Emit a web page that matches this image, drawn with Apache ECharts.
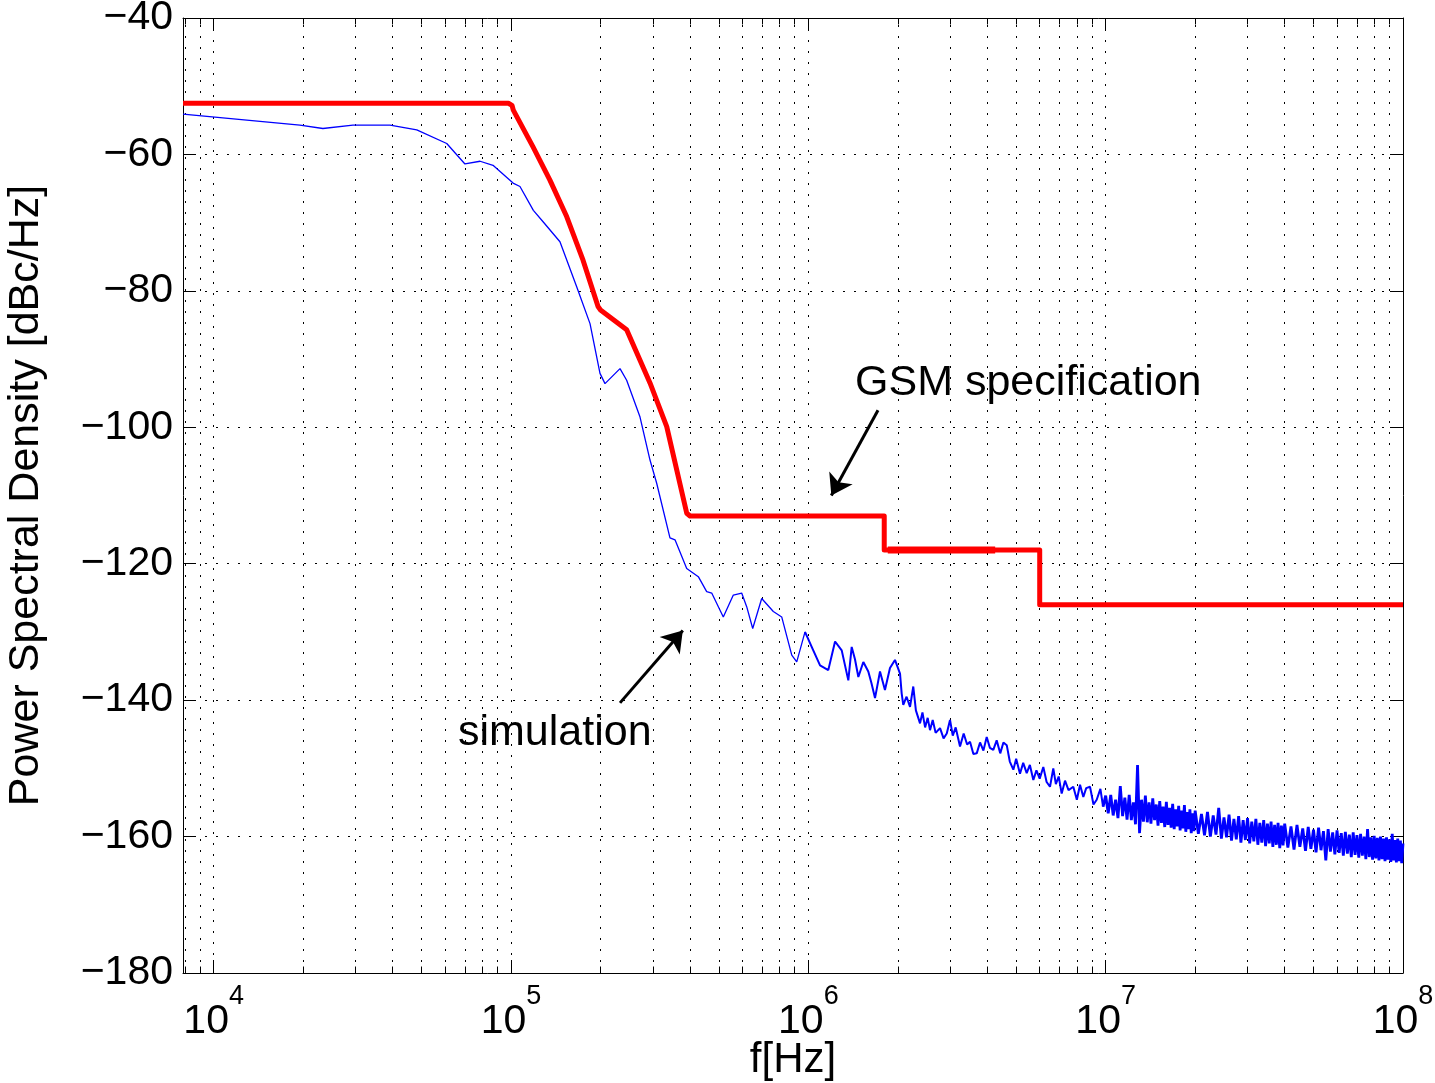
<!DOCTYPE html>
<html>
<head>
<meta charset="utf-8">
<script src="https://cdn.jsdelivr.net/npm/echarts@6/dist/echarts.min.js"></script>
<style>html,body{margin:0;padding:0;background:#fff}#c{width:1435px;height:1083px}</style>
</head>
<body>
<div id="c"></div>
<script>
// ---------- data ----------
const X_MIN = 7886, X_MAX = 1e8;
const Y_MIN = -180, Y_MAX = -40, Y_STEP = 20;

// GSM specification mask
const specFreq = [7886, 9.8e4, 1.008e5, 1.018e5, 1.186e5, 1.353e5, 1.539e5, 1.747e5, 1.962e5, 2.0e5, 2.449e5, 2.934e5, 3.34e5, 3.9e5, 4.0e5, 1.8e6, 1.8e6, 6.0e6, 6.0e6, 1.0e8];
const specPSD  = [-52.5, -52.5, -52.8, -53.5, -58.9, -63.8, -69.1, -75.5, -82.3, -82.8, -85.7, -93.5, -99.9, -112.6, -113.0, -113.0, -118.0, -118.0, -126.0, -126.0];
const specOverlapFreq = [1.85e6, 4.25e6];
const specOverlapPSD  = [-118.0, -118.0];

// simulated phase noise: smooth part (< 1 MHz)
const simLowFreq = [
 7886, 1.95e4, 2.33e4, 2.94e4, 3.92e4, 4.82e4, 6.08e4, 7.0e4, 7.87e4, 8.7e4,
 1.016e5, 1.072e5, 1.189e5, 1.284e5, 1.461e5, 1.663e5, 1.844e5, 1.992e5, 2.071e5, 2.326e5,
 2.449e5, 2.716e5, 2.934e5, 3.09e5, 3.425e5,
 3.561e5, 3.899e5, 4.266e5, 4.551e5, 4.732e5, 5.176e5, 5.594e5, 5.968e5, 6.204e5, 6.5e5,
 6.969e5, 7.625e5, 8.137e5, 8.796e5, 9.141e5, 9.746e5
];
const simLowPSD = [
 -54.1,-55.7,-56.2,-55.7,-55.7,-56.4,-58.4,-61.4,-61.0,-61.6,
 -64.2,-64.7,-68.2,-69.9,-72.8,-79.4,-84.8,-92.1,-93.6,-91.4,
 -93.1,-98.5,-104.8,-108.2,-116.2,
 -116.5,-120.7,-121.9,-124.1,-124.3,-127.8,-124.6,-124.3,-126.3,-129.5,
 -125.1,-127.0,-127.8,-133.4,-134.4,-130.0
];
// 1 MHz .. 10 MHz
const simMidFreq = [
 9.746e5,
 1.039e6,1.095e6,1.167e6,1.230e6,1.295e6,1.363e6,1.399e6,1.435e6,1.473e6,1.531e6,
 1.591e6,1.630e6,1.676e6,1.742e6,1.810e6,1.882e6,1.956e6,2.034e6,2.060e6,2.086e6,
 2.140e6,2.198e6,2.254e6,2.300e6,2.375e6,2.420e6,2.470e6,2.520e6,2.566e6,2.620e6,
 2.680e6,2.773e6,2.850e6,2.921e6,2.996e6,3.060e6,3.130e6,3.237e6,3.330e6,3.420e6,
 3.498e6,3.590e6,3.684e6,3.780e6,3.880e6,3.980e6,4.080e6,4.189e6,4.300e6,4.420e6,
 4.530e6,4.648e6,4.760e6,4.892e6,5.000e6,5.150e6,5.280e6,5.426e6,5.560e6,5.711e6,
 5.850e6,6.000e6,6.170e6,6.330e6,6.498e6,6.666e6,6.800e6,6.950e6,7.114e6,7.300e6,
 7.500e6,7.783e6,8.000e6,8.200e6,8.411e6,8.600e6,8.858e6,9.100e6,9.329e6,9.600e6,
 9.800e6
];
const simMidPSD = [
 -130.0,
 -132.7,-134.9,-135.6,-131.4,-132.7,-137.1,-132.2,-134.0,-136.6,-134.4,
 -135.8,-137.5,-139.7,-135.8,-138.5,-135.3,-134.1,-136.1,-139.0,-140.7,
 -139.5,-141.0,-138.0,-141.5,-143.4,-141.8,-144.0,-142.6,-144.4,-142.9,
 -144.8,-144.1,-145.6,-144.9,-142.9,-145.2,-144.0,-146.8,-144.9,-146.5,
 -146.1,-147.9,-147.8,-146.2,-147.4,-145.4,-147.0,-147.3,-145.9,-147.8,
 -146.2,-146.6,-149.0,-150.2,-148.6,-150.8,-149.2,-150.7,-149.5,-151.7,
 -150.3,-151.5,-149.8,-152.0,-152.7,-150.0,-152.3,-151.2,-153.7,-151.8,
 -153.2,-152.7,-154.6,-152.4,-154.2,-152.9,-152.7,-155.3,-154.6,-153.0,
 -155.6
];
// 10 MHz .. 100 MHz (dense noise floor)
const simHighFreq = [
 9.800e6,
 1.00e7,1.02e7,1.04e7,1.06e7,1.08e7,1.10e7,1.12e7,1.14e7,1.16e7,1.18e7,
 1.20e7,1.22e7,1.24e7,1.26e7,1.28e7,1.30e7,1.32e7,1.34e7,1.36e7,1.38e7,
 1.40e7,1.42e7,1.44e7,1.46e7,1.48e7,1.50e7,1.52e7,1.54e7,1.56e7,1.58e7,
 1.60e7,1.62e7,1.64e7,1.66e7,1.68e7,1.70e7,1.72e7,1.74e7,1.76e7,1.78e7,
 1.80e7,1.82e7,1.84e7,1.86e7,1.88e7,1.90e7,1.92e7,1.94e7,1.96e7,1.98e7,
 2.00e7,2.05e7,2.10e7,2.15e7,2.20e7,2.25e7,2.30e7,2.35e7,2.40e7,2.45e7,
 2.50e7,2.55e7,2.60e7,2.65e7,2.70e7,2.75e7,2.80e7,2.85e7,2.90e7,2.95e7,
 3.00e7,3.05e7,3.10e7,3.15e7,3.20e7,3.25e7,3.30e7,3.35e7,3.40e7,3.45e7,
 3.50e7,3.55e7,3.60e7,3.65e7,3.70e7,3.75e7,3.80e7,3.85e7,3.90e7,3.95e7,
 4.0e7,4.1e7,4.2e7,4.3e7,4.4e7,4.5e7,4.6e7,4.7e7,4.8e7,4.9e7,
 5.0e7,5.1e7,5.2e7,5.3e7,5.4e7,5.5e7,5.6e7,5.7e7,5.8e7,5.9e7,
 6.0e7,6.1e7,6.2e7,6.3e7,6.4e7,6.5e7,6.6e7,6.7e7,6.8e7,6.9e7,
 7.0e7,7.1e7,7.2e7,7.3e7,7.4e7,7.5e7,7.6e7,7.7e7,7.8e7,7.9e7,
 8.0e7,8.1e7,8.2e7,8.3e7,8.4e7,8.5e7,8.6e7,8.7e7,8.8e7,8.9e7,
 9.0e7,9.1e7,9.2e7,9.3e7,9.4e7,9.5e7,9.6e7,9.7e7,9.8e7,9.9e7,
 1.0e8
];
const simHighPSD = [
 -155.6,
 -154.0,-156.6,-153.9,-156.9,-154.6,-157.3,-152.6,-157.0,-154.3,-157.5,
 -153.9,-157.6,-155.0,-158.2,-149.5,-159.5,-154.6,-157.8,-154.0,-157.9,
 -155.0,-158.1,-154.4,-157.6,-155.3,-158.4,-154.8,-158.0,-155.6,-158.6,
 -154.9,-158.3,-155.8,-158.7,-155.2,-158.9,-156.0,-158.5,-155.5,-159.1,
 -156.2,-158.8,-155.4,-159.3,-156.4,-158.9,-156.0,-159.5,-156.6,-159.2,
 -156.2,-159.6,-156.7,-159.8,-156.4,-160.0,-156.9,-159.7,-155.8,-160.3,
 -157.2,-160.1,-156.8,-160.6,-157.4,-160.4,-157.0,-160.9,-157.6,-160.5,
 -157.3,-161.0,-157.8,-160.7,-157.4,-161.2,-158.0,-160.9,-157.6,-161.4,
 -158.1,-161.0,-157.8,-161.5,-158.3,-161.2,-158.0,-161.7,-158.4,-161.3,
 -158.1,-161.6,-158.5,-161.9,-158.3,-161.5,-158.8,-162.1,-158.6,-161.8,
 -159.0,-162.3,-158.7,-162.0,-159.2,-163.5,-158.9,-162.2,-159.4,-162.6,
 -159.1,-162.4,-159.5,-162.8,-159.3,-162.5,-159.7,-163.0,-159.4,-162.7,
 -159.8,-163.1,-159.6,-162.8,-160.0,-163.3,-158.9,-163.0,-160.1,-163.4,
 -159.9,-163.2,-160.2,-163.5,-160.0,-163.3,-160.3,-163.6,-160.1,-163.4,
 -160.4,-163.7,-159.6,-163.5,-160.5,-163.8,-160.3,-163.6,-160.6,-163.9,
 -161.0
];

// minor decade grid positions (2..9 x 10^n)
const minorFreq = [8e3,9e3,2e4,3e4,4e4,5e4,6e4,7e4,8e4,9e4,2e5,3e5,4e5,5e5,6e5,7e5,8e5,9e5,
  2e6,3e6,4e6,5e6,6e6,7e6,8e6,9e6,2e7,3e7,4e7,5e7,6e7,7e7,8e7,9e7];

// annotations
const gsmLabel = {text: 'GSM specification', x: 855, y: 383};
const simLabel = {text: 'simulation', x: 458, y: 733};
const gsmArrow = [[1.715e6, -97.5], [1.195e6, -110.0]];
const simArrow = [[2.326e5, -140.4], [3.783e5, -129.8]];

// ---------- chart ----------
const FONT = '"Liberation Sans", Arial, Helvetica, sans-serif';
const FS = 41;
const pairs = (xs, ys) => xs.map((x, i) => [x, ys[i]]);
const black = '#000';
const dotted = {color: black, width: 1, type: [2, 9]};

const minorTickSegs = [];
minorFreq.forEach(f => {
  minorTickSegs.push([{coord: [f, Y_MIN]}, {coord: [f, Y_MIN + 0.95]}]);
  minorTickSegs.push([{coord: [f, Y_MAX]}, {coord: [f, Y_MAX - 0.95]}]);
});

const simSeries = (name, xs, ys, w) => ({
  name, type: 'line', data: pairs(xs, ys), showSymbol: false, symbol: 'none',
  clip: true, z: 3, lineStyle: {color: '#0000ff', width: w}, silent: true
});

const chart = echarts.init(document.getElementById('c'), null, {renderer: 'canvas', width: 1435, height: 1083});
chart.setOption({
  animation: false,
  backgroundColor: '#fff',
  textStyle: {fontFamily: FONT},
  grid: {left: 183, right: 32, top: 18, bottom: 110, containLabel: false, outerBoundsMode: 'none'},
  xAxis: [{
    type: 'log', logBase: 10, min: X_MIN, max: X_MAX, position: 'bottom',
    axisLine: {show: true, onZero: false, lineStyle: {color: black, width: 1}},
    axisTick: {show: true, inside: true, length: 13, lineStyle: {color: black, width: 1}},
    axisLabel: {
      show: true, showMinLabel: false, margin: 10, color: black,
      formatter: v => '{b|10}{s|' + Math.round(Math.log10(v)) + '}',
      rich: {
        b: {fontSize: FS, fontFamily: FONT, color: black, lineHeight: 59, verticalAlign: 'bottom'},
        s: {fontSize: 27, fontFamily: FONT, color: black, lineHeight: 28, verticalAlign: 'top'}
      }
    },
    splitLine: {show: true, lineStyle: dotted},
    name: 'f[Hz]', nameLocation: 'middle', nameGap: 66, nameMoveOverlap: false,
    nameTextStyle: {fontSize: FS + 1, fontFamily: FONT, color: black}
  }, {
    type: 'log', logBase: 10, min: X_MIN, max: X_MAX, position: 'top',
    axisLine: {show: true, onZero: false, lineStyle: {color: black, width: 1}},
    axisTick: {show: true, inside: true, length: 13, lineStyle: {color: black, width: 1}},
    axisLabel: {show: false}, splitLine: {show: false}
  }],
  yAxis: [{
    type: 'value', min: Y_MIN, max: Y_MAX, interval: Y_STEP, position: 'left',
    axisLine: {show: true, onZero: false, lineStyle: {color: black, width: 1}},
    axisTick: {show: true, inside: true, length: 13, lineStyle: {color: black, width: 1}},
    axisLabel: {margin: 10, fontSize: FS, fontFamily: FONT, color: black,
      formatter: v => String(v).replace('-', '\u2212')},
    splitLine: {show: true, lineStyle: dotted},
    name: 'Power Spectral Density [dBc/Hz]', nameLocation: 'middle', nameGap: 135, nameRotate: 90,
    nameMoveOverlap: false,
    nameTextStyle: {fontSize: 43, fontFamily: FONT, color: black}
  }, {
    type: 'value', min: Y_MIN, max: Y_MAX, interval: Y_STEP, position: 'right',
    axisLine: {show: true, onZero: false, lineStyle: {color: black, width: 1}},
    axisTick: {show: true, inside: true, length: 13, lineStyle: {color: black, width: 1}},
    axisLabel: {show: false}, splitLine: {show: false}
  }],
  graphic: [
    {type: 'text', x: gsmLabel.x, y: gsmLabel.y, z: 100,
     style: {text: gsmLabel.text, fontSize: 43, fontFamily: FONT, fill: black, align: 'left', verticalAlign: 'middle'}},
    {type: 'text', x: simLabel.x, y: simLabel.y, z: 100,
     style: {text: simLabel.text, fontSize: 43, fontFamily: FONT, fill: black, align: 'left', verticalAlign: 'middle'}}
  ],
  series: [
    { // minor grid
      type: 'line', data: [], silent: true, z: 1,
      markLine: {silent: true, z: 1, animation: false, symbol: ['none', 'none'], label: {show: false},
        lineStyle: dotted, emphasis: {disabled: true},
        data: minorFreq.map(f => ({xAxis: f}))}
    },
    { // minor ticks
      type: 'line', data: [], silent: true, z: 1,
      markLine: {silent: true, z: 1, animation: false, symbol: ['none', 'none'], label: {show: false},
        lineStyle: {color: black, width: 1, type: 'solid'}, emphasis: {disabled: true},
        data: minorTickSegs}
    },
    simSeries('simulation', simLowFreq, simLowPSD, 1.3),
    simSeries('simulation (1-10 MHz)', simMidFreq, simMidPSD, 2.0),
    simSeries('simulation (10-100 MHz)', simHighFreq, simHighPSD, 2.8),
    {
      name: 'GSM specification', type: 'line', data: pairs(specFreq, specPSD), showSymbol: false, symbol: 'none',
      clip: true, z: 4, lineStyle: {color: '#ff0000', width: 5, join: 'round'}, silent: true
    },
    {
      name: 'GSM overlap', type: 'line', data: pairs(specOverlapFreq, specOverlapPSD), showSymbol: false, symbol: 'none',
      clip: true, z: 4, lineStyle: {color: '#ff0000', width: 7}, silent: true
    },
    { // annotation arrows
      type: 'line', data: [], silent: true, z: 6,
      markLine: {silent: true, z: 6, animation: false, symbol: ['none', 'arrow'], symbolSize: 20,
        label: {show: false}, lineStyle: {color: black, width: 3, type: 'solid'},
        itemStyle: {color: black}, emphasis: {disabled: true},
        data: [
          [{coord: gsmArrow[0]}, {coord: gsmArrow[1]}],
          [{coord: simArrow[0]}, {coord: simArrow[1]}]
        ]}
    }
  ]
});
</script>
</body>
</html>
